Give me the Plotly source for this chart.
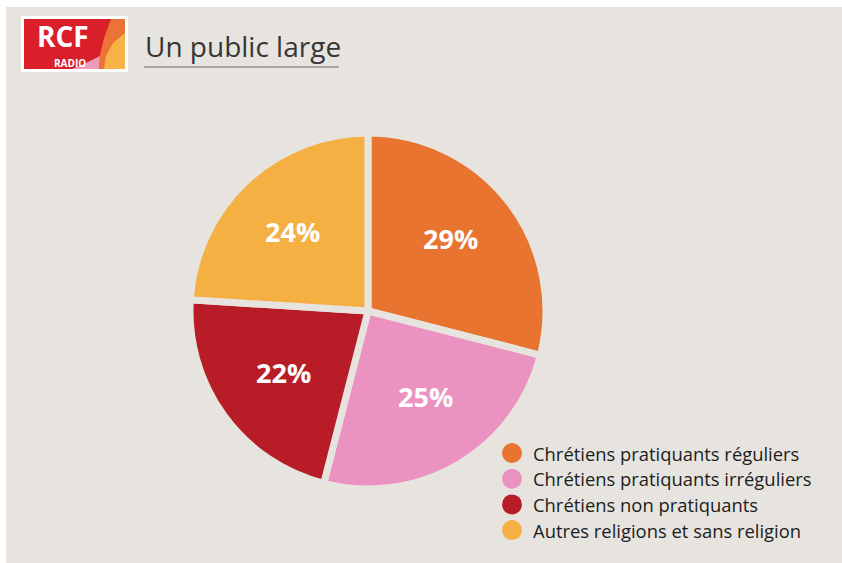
import math
import plotly.graph_objects as go

W, H = 842, 563

categories = ["Chrétiens pratiquants réguliers", "Chrétiens pratiquants irréguliers",
              "Chrétiens non pratiquants", "Autres religions et sans religion"]
values = [29, 25, 22, 24]
colors = ["#E8742F", "#EC92C0", "#B71C27", "#F4B043"]
title_text = "Un public large"

BG = "#E7E4E0"

def px(x):
    return x / W

def py(y):
    return 1 - y / H

fig = go.Figure()

cx, cy, r = 368, 311, 178
fig.add_trace(go.Pie(
    labels=categories, values=values, sort=False, direction="clockwise", rotation=0,
    marker=dict(colors=colors, line=dict(color=BG, width=7)),
    textinfo="none",
    domain=dict(x=[px(cx - r), px(cx + r)], y=[py(cy + r), py(cy - r)]),
    showlegend=False, hoverinfo="label+percent",
))

annotations = []
# percentage labels at each slice's mid-angle (derived from the values)
total = sum(values)
cum = 0
for v in values:
    mid = (cum + v / 2) / total * 2 * math.pi - 0.035
    cum += v
    rr = 0.6 * r
    lx = cx + rr * math.sin(mid)
    ly = cy - 4 - rr * math.cos(mid)
    annotations.append(dict(text=f"{v}%", x=px(lx), y=py(ly), xref="paper", yref="paper",
                            showarrow=False, xanchor="center", yanchor="middle",
                            font=dict(family="Open Sans", size=27, color="white", weight="bold")))

shapes = []
# panel
shapes.append(dict(type="rect", xref="paper", yref="paper", x0=px(6), x1=1, y0=0, y1=py(7),
                   fillcolor=BG, line=dict(width=0), layer="below"))
# title underline
shapes.append(dict(type="line", xref="paper", yref="paper", x0=px(144), x1=px(339), y0=py(67), y1=py(67),
                   line=dict(color="#6b6b6b", width=1)))
# logo
shapes.append(dict(type="rect", xref="paper", yref="paper", x0=px(21), x1=px(128), y0=py(72), y1=py(16),
                   fillcolor="white", line=dict(width=0)))
shapes.append(dict(type="rect", xref="paper", yref="paper", x0=px(24), x1=px(125), y0=py(69), y1=py(19),
                   fillcolor="#D81F2A", line=dict(width=0)))

def path(pts):
    s = ""
    for i, (a, b) in enumerate(pts):
        s += ("M" if i == 0 else "L") + f"{px(a):.5f},{py(b):.5f} "
    return s + "Z"

shapes.append(dict(type="path", xref="paper", yref="paper",
                   path=path([(111, 19), (125, 19), (125, 69), (99, 69), (100, 55), (104, 38)]),
                   fillcolor="#EB7336", line=dict(width=0)))
shapes.append(dict(type="path", xref="paper", yref="paper",
                   path=path([(125, 33), (125, 69), (104, 69), (106, 56), (113, 43)]),
                   fillcolor="#F6B446", line=dict(width=0)))
shapes.append(dict(type="path", xref="paper", yref="paper",
                   path=path([(72, 69), (86, 63), (100, 56), (99, 69)]),
                   fillcolor="#EE9CB8", line=dict(width=0)))

annotations += [
    dict(text="RCF", x=px(63), y=py(36), xref="paper", yref="paper", showarrow=False, borderpad=0,
         font=dict(family="Open Sans", size=28, color="white", weight="bold"),
         xanchor="center", yanchor="middle"),
    dict(text="RADIO", x=px(70), y=py(63), xref="paper", yref="paper", showarrow=False, borderpad=0,
         font=dict(family="Open Sans", size=10, color="white", weight="bold"),
         xanchor="center", yanchor="middle"),
    dict(text=title_text, x=px(143), y=py(46), xref="paper", yref="paper", showarrow=False,
         font=dict(family="Open Sans", size=28, color="#363636"), xanchor="left", yanchor="middle"),
]

# legend (manual, circular swatches)
lx0, ly0, step, rad = 512, 453, 25.7, 10
for i, (name, col) in enumerate(zip(categories, colors)):
    yy = ly0 + i * step
    shapes.append(dict(type="circle", xref="paper", yref="paper",
                       x0=px(lx0 - rad), x1=px(lx0 + rad), y0=py(yy + rad), y1=py(yy - rad),
                       fillcolor=col, line=dict(width=0)))
    annotations.append(dict(text=name, x=px(532), y=py(yy), xref="paper", yref="paper", showarrow=False,
                            xanchor="left", yanchor="middle", borderpad=0,
                            font=dict(family="Open Sans", size=18.4, color="#1c1c1c")))

fig.update_layout(
    width=W, height=H, margin=dict(l=0, r=0, t=0, b=0),
    paper_bgcolor="white", plot_bgcolor="rgba(0,0,0,0)",
    xaxis=dict(visible=False), yaxis=dict(visible=False),
    shapes=shapes, annotations=annotations, showlegend=False,
)

fig.write_html("out.html")
